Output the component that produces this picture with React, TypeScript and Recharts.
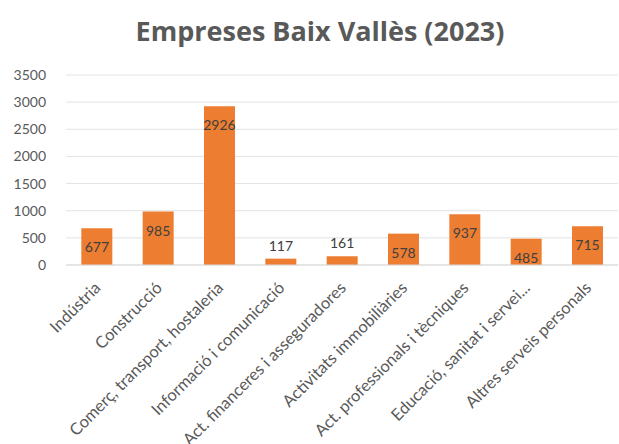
import React from "react";
import {
  BarChart,
  Bar,
  XAxis,
  YAxis,
  CartesianGrid,
  LabelList,
} from "recharts";

const TITLE = "Empreses Baix Vallès (2023)";

const SECTORS = [
  "Indústria",
  "Construcció",
  "Comerç, transport, hostaleria",
  "Informació i comunicació",
  "Act. financeres i asseguradores",
  "Activitats immobiliàries",
  "Act. professionals i tècniques",
  "Educació, sanitat i servei...",
  "Altres serveis personals",
];

const COMPANIES = [677, 985, 2926, 117, 161, 578, 937, 485, 715];

const Y_TICKS = [0, 500, 1000, 1500, 2000, 2500, 3000, 3500];

const data = SECTORS.map((name, i) => ({ name, value: COMPANIES[i] }));

const FONT = "Lato, 'Open Sans', sans-serif";
const GREY = "#595959";

function SectorTick(props: any) {
  const { x, y, payload } = props;
  return (
    <g transform={`translate(${x + 5},${y + 16}) rotate(-45)`}>
      <text
        x={0}
        y={0}
        textAnchor="end"
        fill={GREY}
        fontSize={16.5}
        fontFamily={FONT}
      >
        {payload.value}
      </text>
    </g>
  );
}

function ValueLabel(props: any) {
  const { x, y, width, height, value } = props;
  const small = height < 22;
  const ty = small ? y - 8 : y + 24;
  return (
    <text
      x={x + width / 2}
      y={ty}
      textAnchor="middle"
      fill="#404040"
      fontSize={14}
      fontFamily={FONT}
    >
      {value}
    </text>
  );
}

export default function App() {
  return (
    <div
      style={{
        position: "absolute",
        left: 0,
        top: 0,
        width: 619,
        height: 444,
        background: "#fff",
        fontFamily: FONT,
      }}
    >
      <div
        style={{
          position: "absolute",
          left: 0,
          top: 12,
          width: 640,
          textAlign: "center",
          fontSize: 27,
          fontWeight: 700,
          color: GREY,
          fontFamily: "'Open Sans', sans-serif",
        }}
      >
        {TITLE}
      </div>
      <BarChart
        width={619}
        height={444}
        data={data}
        margin={{ top: 75, right: 1, bottom: 0, left: 0 }}
        barCategoryGap="25%"
      >
        <CartesianGrid vertical={false} stroke="#E3E3E3" />
        <XAxis
          dataKey="name"
          interval={0}
          height={179}
          tick={<SectorTick />}
          tickLine={false}
          axisLine={{ stroke: "#D9D9D9" }}
        />
        <YAxis
          width={66}
          domain={[0, 3500]}
          ticks={Y_TICKS}
          axisLine={false}
          tickLine={false}
          tick={{ fill: GREY, fontSize: 14, fontFamily: FONT }}
          tickMargin={14}
        />
        <Bar dataKey="value" fill="#ED7D31" isAnimationActive={false}>
          <LabelList dataKey="value" content={<ValueLabel />} />
        </Bar>
      </BarChart>
    </div>
  );
}
